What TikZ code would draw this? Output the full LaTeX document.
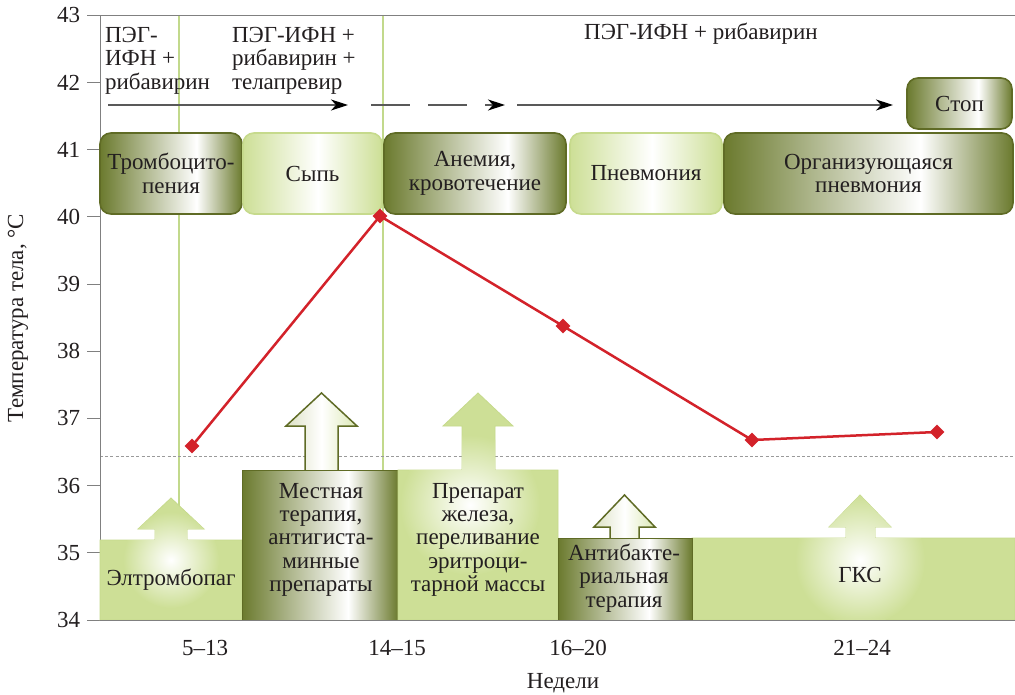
\documentclass[tikz,border=0pt]{standalone}
\usepackage{fontspec}
\setmainfont{Liberation Serif}
\usetikzlibrary{shapes.geometric,arrows.meta}

\definecolor{olv}{HTML}{6B7A2E}
\definecolor{olvb}{HTML}{5F6B25}
\definecolor{lg}{HTML}{CDDF96}
\definecolor{lgb}{HTML}{C6DA8C}
\definecolor{lgline}{HTML}{C2D98C}
\definecolor{redl}{HTML}{D3222A}
\definecolor{axg}{HTML}{808080}
\definecolor{txt}{HTML}{231F20}
\definecolor{arrf}{HTML}{DCE1C4}

\pgfdeclarehorizontalshading{darkh}{100bp}{color(0bp)=(olv); color(25bp)=(olv); color(59bp)=(white); color(75bp)=(olv); color(100bp)=(olv)}
\pgfdeclarehorizontalshading{lighth}{100bp}{color(0bp)=(lg); color(25bp)=(lg); color(52bp)=(white); color(75bp)=(lg); color(100bp)=(lg)}
\pgfdeclarehorizontalshading{arrh}{100bp}{color(0bp)=(arrf); color(25bp)=(arrf); color(50bp)=(white); color(75bp)=(lg!70!white); color(100bp)=(lg!70!white)}

\newcommand{\dfont}{\fontsize{23}{23.4}\selectfont}

\tikzset{
  dbox/.style={rectangle, rounded corners=11pt, shade, shading=darkh, draw=olvb, line width=1.6pt,
    inner sep=0pt, outer sep=0pt, align=center, text=txt, font=\dfont},
  lbox/.style={rectangle, rounded corners=11pt, shade, shading=lighth, draw=lgb, line width=1.6pt,
    inner sep=0pt, outer sep=0pt, align=center, text=txt, font=\dfont},
  lbl/.style={inner sep=0pt, outer sep=0pt, text=txt, font=\dfont},
  darkbar/.style={shade, shading=darkh, draw=olvb, line width=1pt},
  darkarrow/.style={shade, shading=arrh, draw=olvb, line width=1.5pt, line join=miter},
  lightbar/.style={fill=lg, draw=lgb, line width=0.8pt},
  tick/.style={draw=axg, line width=0.9pt},
  mk/.style={diamond, fill=redl, inner sep=0pt, minimum size=15pt},
  redline/.style={draw=redl, line width=2.5pt},
  regarrow/.style={draw=black!65, line width=1.2pt, -{Stealth[length=17pt,width=11pt,inset=5pt,color=black]}},
}

\begin{document}
\begin{tikzpicture}[x=1pt, y=-1pt]
\useasboundingbox (0,0) rectangle (1015,695);
\fill[white] (0,0) rectangle (1015,695);

% guide lines
\draw[lgline, line width=1.1pt] (179,15) -- (179,620);
\draw[lgline, line width=1.1pt] (383,15) -- (383,620);
\draw[axg!80, line width=0.9pt, dash pattern=on 3pt off 2.2pt] (100,456) -- (1015,456);

% axes
\draw[axg, line width=0.9pt] (1015,15) -- (100,15) -- (100,620) -- (1015,620);
\foreach \t [count=\i from 0] in {34,...,43} {
  \draw[tick] (87,620-67.2*\i) -- (100,620-67.2*\i);
  \node[lbl, anchor=east] (t\t) at (80,620-67.2*\i) {\t};
}
\node[lbl, rotate=90] (ylab) at (18,318) {Температура тела, °С};

% x labels
\node[lbl] (x1) at (205,648) {5–13};
\node[lbl] (x2) at (397,648) {14–15};
\node[lbl] (x3) at (578,648) {16–20};
\node[lbl] (x4) at (862,648) {21–24};
\node[lbl] (xlab) at (563,683) {Недели};

% treatment texts
\node[lbl, anchor=north west, align=left] (tr1) at (105,27) {ПЭГ-\\ИФН +\\рибавирин};
\node[lbl, anchor=north west, align=left] (tr2) at (232,27) {ПЭГ-ИФН +\\рибавирин +\\телапревир};
\node[lbl, anchor=base] (tr3) at (701,40) {ПЭГ-ИФН + рибавирин};

\coordinate (a1s) at (108,105); \coordinate (a1e) at (348,105);
\coordinate (a2s) at (371,105); \coordinate (a2e) at (505,105);
\coordinate (a3s) at (517,105); \coordinate (a3e) at (893,105);
\draw[regarrow] (a1s) -- (a1e);
\draw[regarrow, dash pattern=on 39pt off 18pt] (a2s) -- (a2e);
\draw[regarrow] (a3s) -- (a3e);

% top row boxes
\node[dbox, minimum width=142pt, minimum height=81pt] (thr) at (171,173.5) {Тромбоцито-\\пения};
\node[lbox, minimum width=139pt, minimum height=81pt] (syp) at (312.5,173.5) {Сыпь};
\node[dbox, minimum width=182pt, minimum height=81pt] (anm) at (475,173.5) {Анемия,\\кровотечение};
\node[lbox, minimum width=152pt, minimum height=81pt] (pnv) at (646,173.5) {Пневмония};
\node[dbox, minimum width=289pt, minimum height=81pt] (org) at (868.5,173.5) {Организующаяся\\пневмония};
\node[dbox, minimum width=105pt, minimum height=51pt] (stp) at (959.5,103.5) {Стоп};

% bottom: Элтромбопаг
\filldraw[lightbar] (100,620) -- (100,540) -- (155,540) -- (155,529) -- (138,529) -- (171,498) -- (204,529) -- (187,529) -- (187,540) -- (242,540) -- (242,620) -- cycle;
\begin{scope}
\clip (100,620) -- (100,540) -- (155,540) -- (155,529) -- (138,529) -- (171,498) -- (204,529) -- (187,529) -- (187,540) -- (242,540) -- (242,620) -- cycle;
\shade[inner color=white, outer color=lg] (171,560) circle (48pt);
\end{scope}
\node[lbl, anchor=base] (elt) at (171,585) {Элтромбопаг};

% bottom: Местная терапия
\draw[darkarrow] (305,471) -- (305,426) -- (286,426) -- (321.5,393) -- (357,426) -- (338,426) -- (338,471);
\draw[darkbar] (242,470) rectangle (398,620);
\node[lbl, anchor=north, align=center] (mst) at (321,483) {Местная\\терапия,\\антигиста-\\минные\\препараты};

% bottom: Препарат железа
\filldraw[lightbar] (398,620) -- (398,470) -- (462,470) -- (462,426) -- (443,426) -- (478,393) -- (513,426) -- (495,426) -- (495,470) -- (558,470) -- (558,620) -- cycle;
\begin{scope}
\clip (398,620) -- (398,470) -- (462,470) -- (462,426) -- (443,426) -- (478,393) -- (513,426) -- (495,426) -- (495,470) -- (558,470) -- (558,620) -- cycle;
\shade[inner color=white, outer color=lg] (470,505) circle (70pt);
\end{scope}
\node[lbl, anchor=north, align=center] (prp) at (478,483) {Препарат\\железа,\\переливание\\эритроци-\\тарной массы};

% bottom: ГКС
\filldraw[lightbar] (692,620) -- (692,538) -- (846,538) -- (846,527) -- (829,527) -- (860,495) -- (891,527) -- (875,527) -- (875,538) -- (1015,538) -- (1015,620) -- cycle;
\begin{scope}
\clip (692,620) -- (692,538) -- (846,538) -- (846,527) -- (829,527) -- (860,495) -- (891,527) -- (875,527) -- (875,538) -- (1015,538) -- (1015,620) -- cycle;
\shade[inner color=white, outer color=lg] (860,560) circle (65pt);
\end{scope}
\node[lbl, anchor=base] (gks) at (860,582) {ГКС};

% bottom: Антибактериальная терапия
\draw[darkarrow] (610,539) -- (610,527) -- (594,527) -- (624.5,495) -- (655,527) -- (639,527) -- (639,539);
\draw[darkbar] (558,538) rectangle (692,620);
\node[lbl, anchor=north, align=center] (abt) at (624,544) {Антибакте-\\риальная\\терапия};

% base line
\draw[axg, line width=0.9pt] (100,620) -- (1015,620);

% temperature curve
\coordinate (p1) at (192,446);
\coordinate (p2) at (380,216);
\coordinate (p3) at (563,326);
\coordinate (p4) at (752,440);
\coordinate (p5) at (937,432);
\draw[redline] (p1) -- (p2) -- (p3) -- (p4) -- (p5);
\foreach \p in {1,...,5} { \node[mk] (m\p) at (p\p) {}; }
\end{tikzpicture}
\end{document}
